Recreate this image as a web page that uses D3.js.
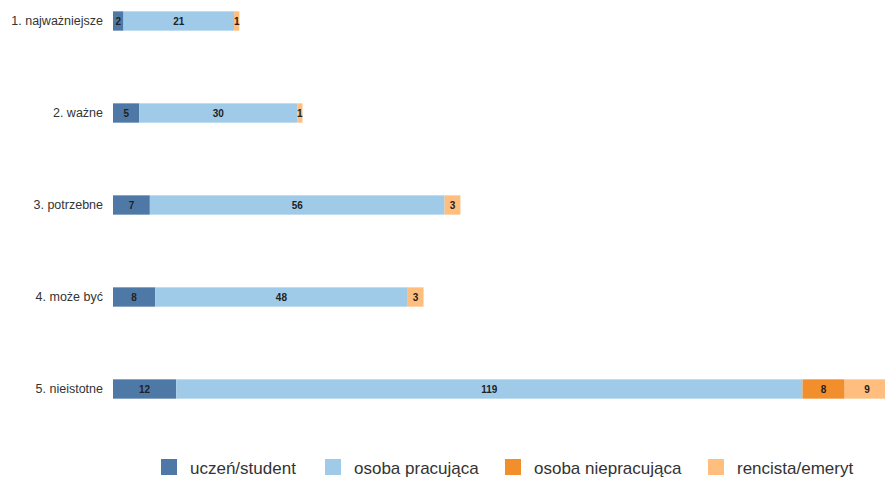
<!DOCTYPE html>
<html>
<head>
<meta charset="utf-8">
<script src="https://cdn.jsdelivr.net/npm/d3@7"></script>
<style>
  body { margin: 0; background: #fff; }
  svg { font-family: "Liberation Sans", Arial, sans-serif; }
</style>
</head>
<body>
<div id="chart"></div>
<script>
// data
var categories = ["1. najważniejsze", "2. ważne", "3. potrzebne", "4. może być", "5. nieistotne"];
var seriesNames = ["uczeń/student", "osoba pracująca", "osoba niepracująca", "rencista/emeryt"];
var student = [2, 5, 7, 8, 12];
var working = [21, 30, 56, 48, 119];
var notWorking = [0, 0, 0, 0, 8];
var retired = [1, 1, 3, 3, 9];
var colors = ["#4e79a7", "#a0cbe8", "#f28e2b", "#ffbe7d"];

var width = 885, height = 479;

var svg = d3.select("#chart").append("svg")
    .attr("width", width)
    .attr("height", height);

// build rows for the stack
var rows = categories.map(function(c, i) {
    return { cat: c, s0: student[i], s1: working[i], s2: notWorking[i], s3: retired[i] };
});
var keys = ["s0", "s1", "s2", "s3"];
var stacked = d3.stack().keys(keys)(rows);

var x = d3.scaleLinear()
    .domain([0, 148])
    .range([113, 892]);

var y = d3.scaleBand()
    .domain(categories)
    .range([-25, 435])
    .paddingInner(0.79)
    .paddingOuter(0.395);

// category labels
svg.selectAll(".cat")
    .data(categories)
    .enter()
    .append("text")
    .attr("x", 103)
    .attr("y", function(d) { return y(d) + y.bandwidth() / 2; })
    .attr("dy", "0.35em")
    .attr("text-anchor", "end")
    .attr("font-size", 12.5)
    .attr("fill", "#333")
    .text(function(d) { return d; });

// bars
var layers = svg.selectAll(".layer")
    .data(stacked)
    .enter()
    .append("g")
    .attr("fill", function(d, i) { return colors[i]; });

layers.selectAll("rect")
    .data(function(d) { return d; })
    .enter()
    .append("rect")
    .attr("x", function(d) { return x(d[0]); })
    .attr("y", function(d) { return y(d.data.cat); })
    .attr("width", function(d) { return x(d[1]) - x(d[0]); })
    .attr("height", y.bandwidth());

// value labels
layers.selectAll("text")
    .data(function(d) { return d.filter(function(p) { return p[1] - p[0] > 0; }); })
    .enter()
    .append("text")
    .attr("x", function(d) { return Math.min((x(d[0]) + x(d[1])) / 2, 867); })
    .attr("y", function(d) { return y(d.data.cat) + y.bandwidth() / 2; })
    .attr("dy", "0.35em")
    .attr("text-anchor", "middle")
    .attr("font-size", 10)
    .attr("font-weight", "bold")
    .attr("fill", "#222")
    .text(function(d) { return d[1] - d[0]; });

// legend
var legendX = [161, 325, 505, 708];
var legend = svg.selectAll(".legend")
    .data(seriesNames)
    .enter()
    .append("g")
    .attr("transform", function(d, i) { return "translate(" + legendX[i] + ",459)"; });

legend.append("rect")
    .attr("width", 16)
    .attr("height", 16)
    .attr("fill", function(d, i) { return colors[i]; });

legend.append("text")
    .attr("x", 29)
    .attr("y", 15)
    .attr("font-size", 17)
    .attr("fill", "#333")
    .text(function(d) { return d; });
</script>
</body>
</html>
